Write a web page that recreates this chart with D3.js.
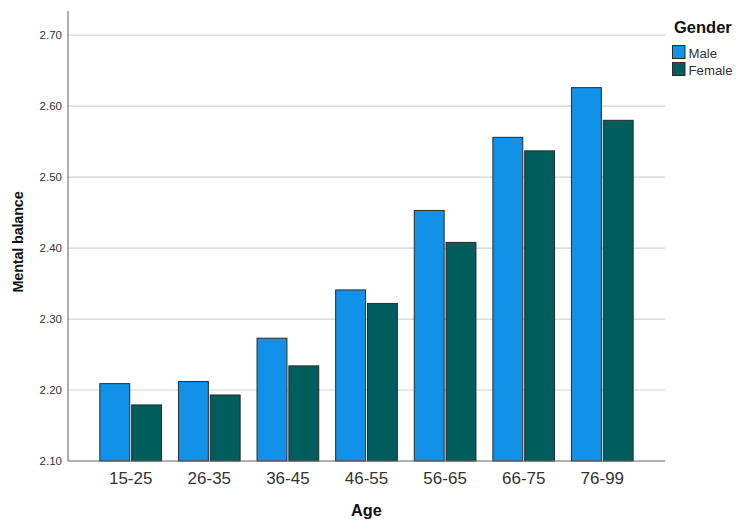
<!DOCTYPE html>
<html>
<head>
<meta charset="utf-8">
<script src="https://cdn.jsdelivr.net/npm/d3@7"></script>
<style>
  body { margin: 0; background: #fff; }
  svg { display: block; font-family: "Liberation Sans", Arial, sans-serif; }
</style>
</head>
<body>
<svg id="chart" width="748" height="528"></svg>
<script>
// data
const ages = ['15-25', '26-35', '36-45', '46-55', '56-65', '66-75', '76-99']
const genders = ['Male', 'Female']
const maleValues = [2.209, 2.212, 2.273, 2.341, 2.453, 2.556, 2.626]
const femaleValues = [2.179, 2.193, 2.234, 2.322, 2.408, 2.537, 2.580]
const yTicks = [2.10, 2.20, 2.30, 2.40, 2.50, 2.60, 2.70]
const colors = ['#1192e8', '#005d5d']

let rows = ages.map((a, i) => ({ age: a, Male: maleValues[i], Female: femaleValues[i] }))

let svg = d3.select('#chart')

let plotLeft = 68, plotRight = 665, plotTop = 11, plotBottom = 461

let y = d3.scaleLinear()
	.domain([2.10, 2.734])
	.range([plotBottom, plotTop])

let x = d3.scaleBand()
	.domain(ages)
	.range([plotLeft, plotRight])
	.paddingInner(0.215)
	.paddingOuter(0.405)

let xInner = d3.scaleBand()
	.domain(genders)
	.range([0, x.bandwidth()])
	.paddingInner(0.06)

// gridlines
svg.append('g')
	.selectAll('line')
	.data(yTicks.slice(1))
	.enter()
	.append('line')
	.attr('x1', plotLeft)
	.attr('x2', plotRight)
	.attr('y1', d => y(d))
	.attr('y2', d => y(d))
	.attr('stroke', '#d3d3d3')
	.attr('stroke-width', 1.2)

// bars
let groups = svg.append('g')
	.selectAll('g')
	.data(rows)
	.enter()
	.append('g')
	.attr('transform', d => `translate(${x(d.age)},0)`)

groups.selectAll('rect')
	.data(d => genders.map((g, j) => ({ g, j, v: d[g] })))
	.enter()
	.append('rect')
	.attr('x', d => xInner(d.g))
	.attr('width', xInner.bandwidth())
	.attr('y', d => y(d.v))
	.attr('height', d => plotBottom - y(d.v))
	.attr('fill', d => colors[d.j])
	.attr('stroke', '#2a2a2a')
	.attr('stroke-width', 1)

// axes
let yAxis = d3.axisLeft(y)
	.tickValues(yTicks)
	.tickFormat(d3.format('.2f'))
	.tickSize(0)
	.tickPadding(6)

let yG = svg.append('g')
	.attr('transform', `translate(${plotLeft},0)`)
	.call(yAxis)
yG.select('.domain').remove()
yG.selectAll('text')
	.attr('font-size', 11.5)
	.attr('font-family', '"Liberation Sans", Arial, sans-serif')
	.attr('fill', '#333')

svg.append('line')
	.attr('x1', plotLeft).attr('x2', plotLeft)
	.attr('y1', plotTop).attr('y2', plotBottom)
	.attr('stroke', '#777')
	.attr('stroke-width', 1.2)

let xAxis = d3.axisBottom(x)
	.tickSize(0)
	.tickPadding(11)

let xG = svg.append('g')
	.attr('transform', `translate(0,${plotBottom})`)
	.call(xAxis)
xG.select('.domain').remove()
xG.selectAll('text')
	.attr('font-size', 17)
	.attr('font-family', '"Liberation Sans", Arial, sans-serif')
	.attr('fill', '#333')

svg.append('line')
	.attr('x1', plotLeft).attr('x2', plotRight)
	.attr('y1', plotBottom).attr('y2', plotBottom)
	.attr('stroke', '#666')
	.attr('stroke-width', 1.2)

// axis titles
svg.append('text')
	.text('Age')
	.attr('x', (plotLeft + plotRight) / 2)
	.attr('y', 516)
	.attr('text-anchor', 'middle')
	.attr('font-size', 16.3)
	.attr('font-weight', 'bold')
	.attr('fill', '#111')

svg.append('text')
	.text('Mental balance')
	.attr('transform', 'translate(23,242) rotate(-90)')
	.attr('text-anchor', 'middle')
	.attr('font-size', 14.5)
	.attr('font-weight', 'bold')
	.attr('letter-spacing', -0.2)
	.attr('fill', '#111')

// legend
let legend = svg.append('g')
	.attr('transform', 'translate(672,0)')

legend.append('text')
	.text('Gender')
	.attr('x', 2)
	.attr('y', 32.5)
	.attr('font-size', 16.5)
	.attr('font-weight', 'bold')
	.attr('fill', '#111')

let items = legend.selectAll('.item')
	.data(genders)
	.enter()
	.append('g')
	.attr('transform', (d, i) => `translate(0,${45 + i * 17})`)

items.append('rect')
	.attr('x', 0.5)
	.attr('y', 0.5)
	.attr('width', 12.5)
	.attr('height', 13)
	.attr('fill', (d, i) => colors[i])
	.attr('stroke', '#2a2a2a')

items.append('text')
	.text(d => d)
	.attr('x', 16.5)
	.attr('y', 12.5)
	.attr('font-size', 13.2)
	.attr('fill', '#333')
</script>
</body>
</html>
